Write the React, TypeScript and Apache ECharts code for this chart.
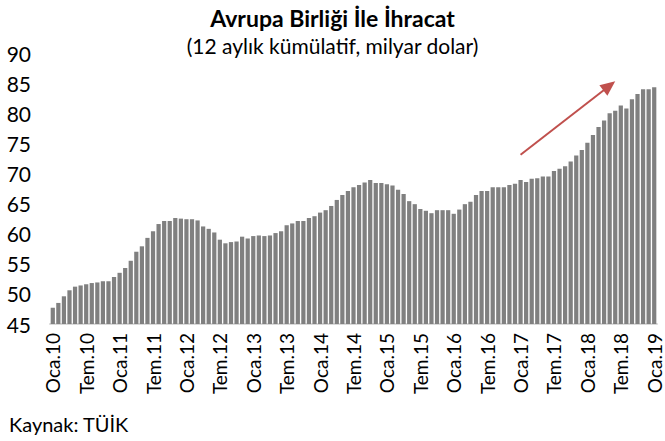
import React, { useEffect, useRef } from "react";
import * as echarts from "echarts";

const monthNames = ["Oca", "Şub", "Mar", "Nis", "May", "Haz", "Tem", "Ağu", "Eyl", "Eki", "Kas", "Ara"];
const startYear = 10;

const values = [
  47.7, 48.5, 49.6, 50.6, 51.2, 51.4, 51.6, 51.8, 51.9, 52.1, 52.1, 52.8,
  53.5, 54.3, 55.5, 57.0, 57.9, 59.3, 60.4, 61.6, 62.1, 62.1, 62.6, 62.5,
  62.4, 62.4, 62.2, 61.2, 60.8, 60.2, 59.0, 58.4, 58.6, 58.7, 59.5, 59.2,
  59.6, 59.7, 59.6, 59.7, 60.1, 60.4, 61.4, 61.7, 62.1, 62.1, 62.6, 62.9,
  63.5, 63.9, 64.6, 65.6, 66.4, 67.1, 67.7, 68.1, 68.5, 68.9, 68.4, 68.4,
  68.2, 68.0, 67.3, 66.6, 65.4, 64.9, 64.1, 63.8, 63.4, 63.9, 63.9, 63.9,
  63.3, 64.0, 64.9, 65.3, 66.4, 67.1, 67.1, 67.7, 67.7, 67.7, 68.1, 68.3,
  68.9, 68.6, 69.1, 69.2, 69.5, 69.5, 70.4, 70.8, 71.2, 72.0, 73.0, 73.9,
  75.1, 76.4, 77.7, 78.8, 80.0, 80.4, 81.3, 80.8, 82.3, 83.2, 84.0, 84.0,
  84.3,
];

const categories = values.map(
  (_, i) => `${monthNames[i % 12]}.${startYear + Math.floor(i / 12)}`
);

// Trend arrow annotation in data space: [category index, value]
const arrowFrom = [84, 73.1];
const arrowTo = [101, 85.3];

const FONT = "Lato, 'Noto Sans', sans-serif";

export default function App() {
  const ref = useRef<HTMLDivElement>(null);
  useEffect(() => {
    if (!ref.current) return;
    document.body.style.margin = "0";
    const chart = echarts.init(ref.current, null, { renderer: "svg" });
    const source = {
      type: "text",
      left: 9,
      top: 414,
      style: { text: "Kaynak: TÜİK", fontSize: 20, fill: "#000", fontFamily: FONT },
    };
    chart.setOption({
      animation: false,
      backgroundColor: "#fff",
      textStyle: { fontFamily: FONT },
      title: {
        text: "Avrupa Birliği İle İhracat",
        subtext: "(12 aylık kümülatif, milyar dolar)",
        left: "center",
        top: 1,
        itemGap: 6,
        textStyle: { fontFamily: FONT, fontSize: 23, fontWeight: "bold", color: "#000" },
        subtextStyle: { fontFamily: FONT, fontSize: 21, color: "#000" },
      },
      grid: { left: 50, right: 8, top: 53, bottom: 117, containLabel: false },
      xAxis: {
        type: "category",
        data: categories,
        boundaryGap: true,
        axisLine: { show: true, lineStyle: { color: "#D9D9D9", width: 2 } },
        axisTick: { show: false },
        axisLabel: {
          interval: 5,
          rotate: 90,
          fontSize: 19,
          lineHeight: 14,
          color: "#000",
          fontFamily: FONT,
          margin: 9,
        },
      },
      yAxis: {
        type: "value",
        min: 45,
        max: 90,
        interval: 5,
        axisLine: { show: false },
        axisTick: { show: false },
        splitLine: { show: false },
        axisLabel: { fontSize: 21, color: "#000", fontFamily: FONT, margin: 19 },
      },
      series: [
        {
          type: "bar",
          data: values,
          barCategoryGap: "24%",
          itemStyle: { color: "#808080" },
        },
      ],
      graphic: [source],
    });

    const p0 = chart.convertToPixel({ xAxisIndex: 0, yAxisIndex: 0 }, arrowFrom) as number[];
    const p1 = chart.convertToPixel({ xAxisIndex: 0, yAxisIndex: 0 }, arrowTo) as number[];
    const dx = p1[0] - p0[0];
    const dy = p1[1] - p0[1];
    const len = Math.sqrt(dx * dx + dy * dy);
    const ux = dx / len;
    const uy = dy / len;
    const headLen = 15;
    const headHalf = 6.5;
    const bx = p1[0] - ux * headLen;
    const by = p1[1] - uy * headLen;
    const color = "#C0504D";
    chart.setOption({
      graphic: [
        source,
        {
          type: "line",
          shape: { x1: p0[0], y1: p0[1], x2: bx + ux * 2, y2: by + uy * 2 },
          style: { stroke: color, lineWidth: 2 },
        },
        {
          type: "polygon",
          shape: {
            points: [
              [p1[0], p1[1]],
              [bx - uy * headHalf, by + ux * headHalf],
              [bx + uy * headHalf, by - ux * headHalf],
            ],
          },
          style: { fill: color },
        },
      ],
    });

    return () => chart.dispose();
  }, []);
  return <div ref={ref} style={{ width: 665, height: 441 }} />;
}
